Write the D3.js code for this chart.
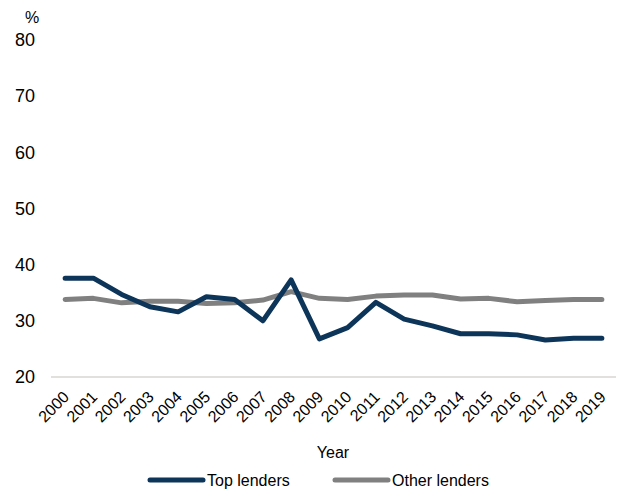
<!DOCTYPE html>
<html><head><meta charset="utf-8">
<script src="https://cdn.jsdelivr.net/npm/d3@7"></script>
<style>body{margin:0;background:#fff;} text{font-family:"Liberation Sans",Arial,sans-serif;fill:#000;}</style>
</head><body>
<svg id="c" width="617" height="491"></svg>
<script>
const years = ["2000","2001","2002","2003","2004","2005","2006","2007","2008","2009","2010","2011","2012","2013","2014","2015","2016","2017","2018","2019"];
const topLenders = [37.6,37.6,34.7,32.5,31.6,34.3,33.8,30.0,37.3,26.8,28.8,33.3,30.3,29.1,27.7,27.7,27.5,26.6,26.9,26.9];
const otherLenders = [33.8,34.0,33.2,33.5,33.5,33.1,33.2,33.7,35.2,34.0,33.8,34.4,34.6,34.6,33.9,34.0,33.4,33.6,33.8,33.8];
const yTicks = [20,30,40,50,60,70,80];
const seriesNames = ["Top lenders","Other lenders"];
const colors = ["#0c3559","#808080"];

const svg = d3.select("#c");
const x = d3.scaleBand().domain(years).range([51, 616]);
const y = d3.scaleLinear().domain([20,80]).range([377, 40]);

// y labels
svg.append("g").selectAll("text").data(yTicks).join("text")
  .attr("x", 35).attr("y", d => y(d)).attr("dy","0.35em")
  .attr("text-anchor","end").style("font-size","18px").text(d => d);
svg.append("text").attr("x", 25).attr("y", 23).style("font-size","16px").text("%");

// x axis line
svg.append("line").attr("x1", 51).attr("x2", 616).attr("y1", y(20)).attr("y2", y(20))
  .attr("stroke", "#d9d6d2").attr("stroke-width", 1.5);

// x labels
svg.append("g").selectAll("text").data(years).join("text")
  .attr("text-anchor","end")
  .attr("transform", d => `translate(${x(d)+x.bandwidth()/2+5},${398}) rotate(-45)`)
  .style("font-size","16px").text(d => d);

svg.append("text").attr("x", 333).attr("y", 458).attr("text-anchor","middle").style("font-size","16px").text("Year");

const line = d3.line().x((d,i) => x(years[i]) + x.bandwidth()/2).y(d => y(d));
[topLenders, otherLenders].reverse().forEach((s, k) => {
  const idx = 1 - k;
  svg.append("path").datum(s).attr("d", line).attr("fill","none")
    .attr("stroke", colors[idx]).attr("stroke-width", 5)
    .attr("stroke-linejoin","round").attr("stroke-linecap","round");
});

// legend
const lx = [150, 335];
seriesNames.forEach((n, i) => {
  svg.append("line").attr("x1", lx[i]).attr("x2", lx[i]+53).attr("y1", 480).attr("y2", 480)
    .attr("stroke", colors[i]).attr("stroke-width", 5).attr("stroke-linecap","round");
  svg.append("text").attr("x", lx[i]+57).attr("y", 486).style("font-size","16px").text(n);
});
</script>
</body></html>
